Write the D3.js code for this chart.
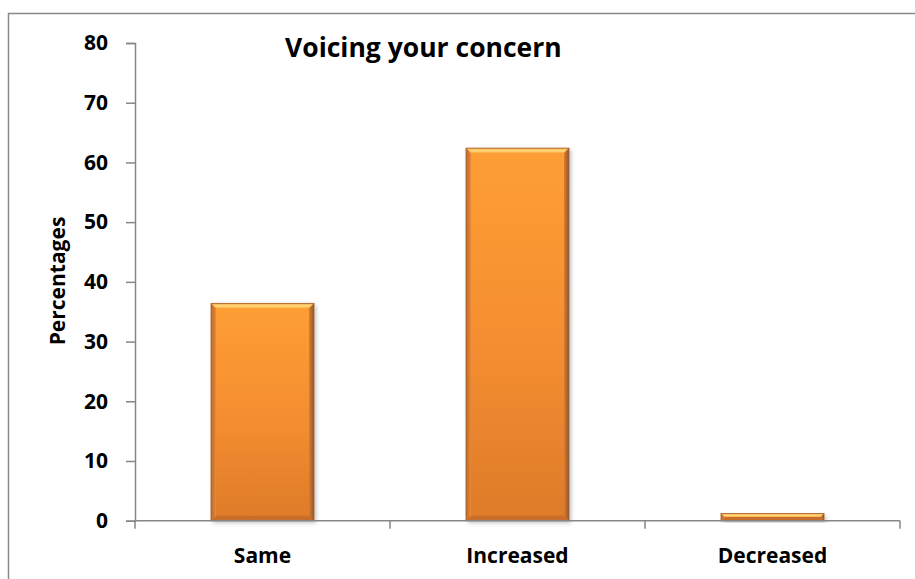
<!DOCTYPE html>
<html>
<head>
<meta charset="utf-8">
<script src="https://cdn.jsdelivr.net/npm/d3@7"></script>
<style>
  html, body { margin: 0; padding: 0; background: #fff; }
  svg { display: block; }
  text { font-family: "Open Sans", "Liberation Sans", sans-serif; font-weight: 700; fill: #000; }
</style>
</head>
<body>
<svg id="chart" width="915" height="579"></svg>
<script>
// Chart data
const categories = ["Same", "Increased", "Decreased"];
const percentages = [36.4, 62.4, 1.2];
const yTicks = [0, 10, 20, 30, 40, 50, 60, 70, 80];
const titleText = "Voicing your concern";
const yLabelText = "Percentages";

const svg = d3.select("#chart");
const W = 915, H = 579;

// Plot area
const plot = { left: 135, right: 900, top: 43, bottom: 520.7 };

const x = d3.scaleBand()
  .domain(categories)
  .range([plot.left, plot.right])
  .paddingInner(0.596)
  .paddingOuter(0.298);

const y = d3.scaleLinear()
  .domain([0, 80])
  .range([plot.bottom, plot.top]);

// Outer chart frame (extends past the right and bottom edges)
svg.append("rect")
  .attr("x", 8.5).attr("y", 13.5)
  .attr("width", W + 20).attr("height", H + 20)
  .attr("fill", "none")
  .attr("stroke", "#898989")
  .attr("stroke-width", 1.5);

// Definitions: gradients and shadow
const defs = svg.append("defs");
const body = defs.append("linearGradient").attr("id", "barBody")
  .attr("x1", 0).attr("y1", 0).attr("x2", 0).attr("y2", 1);
body.append("stop").attr("offset", "0%").attr("stop-color", "#FF9E35");
body.append("stop").attr("offset", "55%").attr("stop-color", "#F48D30");
body.append("stop").attr("offset", "100%").attr("stop-color", "#DE7A2A");

const topGrad = defs.append("linearGradient").attr("id", "barTop")
  .attr("x1", 0).attr("y1", 0).attr("x2", 0).attr("y2", 1);
topGrad.append("stop").attr("offset", "0%").attr("stop-color", "#F4A445");
topGrad.append("stop").attr("offset", "50%").attr("stop-color", "#FFDC80");
topGrad.append("stop").attr("offset", "100%").attr("stop-color", "#FFAA40");

const sideL = defs.append("linearGradient").attr("id", "barLeft")
  .attr("x1", 0).attr("y1", 0).attr("x2", 1).attr("y2", 0);
sideL.append("stop").attr("offset", "0%").attr("stop-color", "#B8692E");
sideL.append("stop").attr("offset", "100%").attr("stop-color", "#E98A35");

const sideR = defs.append("linearGradient").attr("id", "barRight")
  .attr("x1", 0).attr("y1", 0).attr("x2", 1).attr("y2", 0);
sideR.append("stop").attr("offset", "0%").attr("stop-color", "#D97F30");
sideR.append("stop").attr("offset", "100%").attr("stop-color", "#8F5430");

const shadow = defs.append("filter").attr("id", "barShadow")
  .attr("x", "-20%").attr("y", "-20%").attr("width", "140%").attr("height", "140%");
shadow.append("feDropShadow")
  .attr("dx", 2).attr("dy", 2).attr("stdDeviation", 2)
  .attr("flood-color", "#000").attr("flood-opacity", 0.25);

// Bars with a bevelled look
const bars = svg.append("g").selectAll("g.bar")
  .data(categories.map((c, i) => ({ cat: c, val: percentages[i] })))
  .join("g").attr("class", "bar");

bars.each(function(d) {
  const g = d3.select(this);
  const bx = x(d.cat), bw = x.bandwidth();
  const by = y(d.val), bh = y(0) - y(d.val);
  const b = Math.min(5, bh / 2);
  g.append("rect")
    .attr("x", bx).attr("y", by).attr("width", bw).attr("height", bh)
    .attr("fill", "url(#barBody)")
    .attr("filter", "url(#barShadow)");
  const poly = pts => g.append("polygon").attr("points", pts.map(p => p.join(",")).join(" "));
  poly([[bx, by], [bx + bw, by], [bx + bw - b, by + b], [bx + b, by + b]]).attr("fill", "url(#barTop)");
  poly([[bx, by + bh], [bx + b, by + bh - b], [bx + bw - b, by + bh - b], [bx + bw, by + bh]]).attr("fill", "#C96D2A");
  poly([[bx, by], [bx + b, by + b], [bx + b, by + bh - b], [bx, by + bh]]).attr("fill", "url(#barLeft)");
  poly([[bx + bw, by], [bx + bw - b, by + b], [bx + bw - b, by + bh - b], [bx + bw, by + bh]]).attr("fill", "url(#barRight)");
  g.append("rect")
    .attr("x", bx).attr("y", by).attr("width", bw).attr("height", bh)
    .attr("fill", "none").attr("stroke", "#A8622E").attr("stroke-width", 0.8);
});

// Y axis
const yAxis = svg.append("g")
  .attr("transform", `translate(${plot.left},0)`)
  .call(d3.axisLeft(y).tickValues(yTicks).tickSize(9).tickPadding(18).tickFormat(d3.format("d")));
yAxis.select(".domain").attr("stroke", "#868686").attr("stroke-width", 1.5);
yAxis.selectAll(".tick line").attr("stroke", "#868686").attr("stroke-width", 1.5);
yAxis.selectAll(".tick text")
  .style("font-family", '"Open Sans", "Liberation Sans", sans-serif')
  .style("font-weight", 700).style("font-size", "21px").attr("fill", "#000");

// X axis: ticks at category boundaries
const xAxisG = svg.append("g").attr("transform", `translate(0,${plot.bottom})`);
xAxisG.append("line")
  .attr("x1", plot.left).attr("x2", plot.right)
  .attr("stroke", "#868686").attr("stroke-width", 1.5);
const boundaries = categories.map(c => x(c) - x.step() * x.paddingOuter()).concat([plot.right]);
xAxisG.selectAll("line.tick").data(boundaries).join("line").attr("class", "tick")
  .attr("x1", d => d).attr("x2", d => d).attr("y1", 0).attr("y2", 8)
  .attr("stroke", "#868686").attr("stroke-width", 1.5);
xAxisG.selectAll("text").data(categories).join("text")
  .attr("x", d => x(d) + x.bandwidth() / 2)
  .attr("y", 42)
  .attr("text-anchor", "middle")
  .style("font-size", "21px")
  .text(d => d);

// Title
svg.append("text")
  .attr("x", 285).attr("y", 57)
  .style("font-size", "26.5px")
  .text(titleText);

// Y axis label
svg.append("text")
  .attr("transform", `translate(65,${(215 + 347) / 2}) rotate(-90)`)
  .attr("text-anchor", "middle")
  .style("font-size", "21px")
  .text(yLabelText);
</script>
</body>
</html>
